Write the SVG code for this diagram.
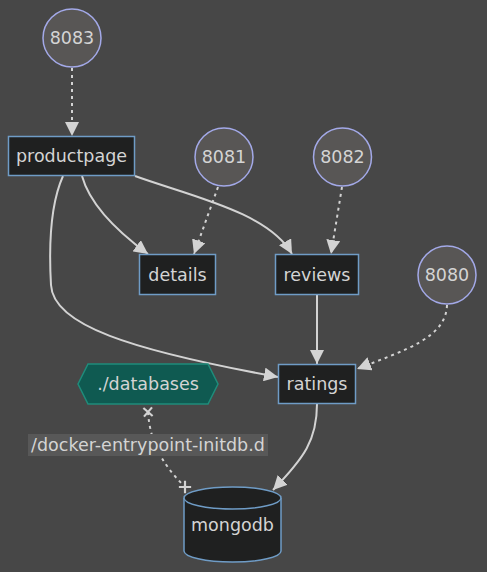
<svg xmlns="http://www.w3.org/2000/svg" width="487" height="572" viewBox="0 0 487 572">
<defs>
<style>
text{font-family:"DejaVu Sans","Liberation Sans",sans-serif;font-size:17.5px;fill:#d4d4d4;text-anchor:middle;dominant-baseline:central}
.svc{fill:#1f2020;stroke:#6f9cc6;stroke-width:1.5}
.port{fill:#585655;stroke:#a3a9e8;stroke-width:1.5}
.vol{fill:#0f5a51;stroke:#1f8c7b;stroke-width:1.5}
.e{fill:none;stroke:#d3d3d3;stroke-width:2}
.d{stroke-dasharray:3 4}
</style>
<marker id="arr" viewBox="0 0 12 12" refX="12" refY="6" markerWidth="14" markerHeight="14" markerUnits="userSpaceOnUse" orient="auto">
<path d="M0,0 L12,6 L0,12 z" fill="#d3d3d3"/>
</marker>
<marker id="cross" viewBox="0 0 12 12" refX="6" refY="6" markerWidth="13" markerHeight="13" markerUnits="userSpaceOnUse" orient="auto">
<path d="M2,2 L10,10 M2,10 L10,2" stroke="#d3d3d3" stroke-width="2" fill="none"/>
</marker>
</defs>
<rect width="487" height="572" fill="#474747"/>
<g id="connectors">
<path class="e d" d="M72,68 L72,136" marker-end="url(#arr)"/>
<path class="e" d="M82,176 C90,205 118,232 148,254" marker-end="url(#arr)"/>
<path class="e" d="M135,176 C190,196 268,212 292,254" marker-end="url(#arr)"/>
<path class="e" d="M63,176 C50,205 49,250 51,285 C53,325 130,350 278,377" marker-end="url(#arr)"/>
<path class="e d" d="M218,187 L194,254" marker-end="url(#arr)"/>
<path class="e d" d="M342,187 L331,254" marker-end="url(#arr)"/>
<path class="e" d="M317,295 L317,364" marker-end="url(#arr)"/>
<path class="e d" d="M447,305 C446,338 405,350 357,369" marker-end="url(#arr)"/>
<path class="e" d="M317,404 C317,440 304,458 273,490" marker-end="url(#arr)"/>
<path class="e d" d="M148,412 C150,440 160,462 185,487" marker-start="url(#cross)" marker-end="url(#cross)"/>
<rect x="28" y="434" width="240" height="22" fill="#585858"/>
<text x="148" y="445">/docker-entrypoint-initdb.d</text>
</g>
<g id="p8083"><circle class="port" cx="72" cy="38" r="29"/><text x="72" y="38">8083</text></g>
<g id="p8081"><circle class="port" cx="224" cy="157" r="29"/><text x="224" y="157">8081</text></g>
<g id="p8082"><circle class="port" cx="342.5" cy="157" r="29"/><text x="342.5" y="157">8082</text></g>
<g id="p8080"><circle class="port" cx="447" cy="275" r="29"/><text x="447" y="275">8080</text></g>
<g id="productpage"><rect class="svc" x="8.5" y="136.5" width="126" height="39"/><text x="71.5" y="156">productpage</text></g>
<g id="details"><rect class="svc" x="139.5" y="254.5" width="76" height="40"/><text x="177.5" y="275">details</text></g>
<g id="reviews"><rect class="svc" x="275.5" y="254.5" width="83" height="40"/><text x="317" y="275">reviews</text></g>
<g id="ratings"><rect class="svc" x="278.5" y="364.5" width="77" height="39"/><text x="317" y="384">ratings</text></g>
<g id="databases"><polygon class="vol" points="78,384 88,364 208,364 218,384 208,404 88,404"/><text x="148" y="384">./databases</text></g>
<g id="mongodb">
<path class="svc" d="M184,498 A48.5,11 0 0 1 281,498 L281,551 A48.5,11 0 0 1 184,551 Z"/>
<path class="svc" fill="none" d="M184,498 A48.5,11 0 0 0 281,498"/>
<text x="232.5" y="525">mongodb</text>
</g>
</svg>
